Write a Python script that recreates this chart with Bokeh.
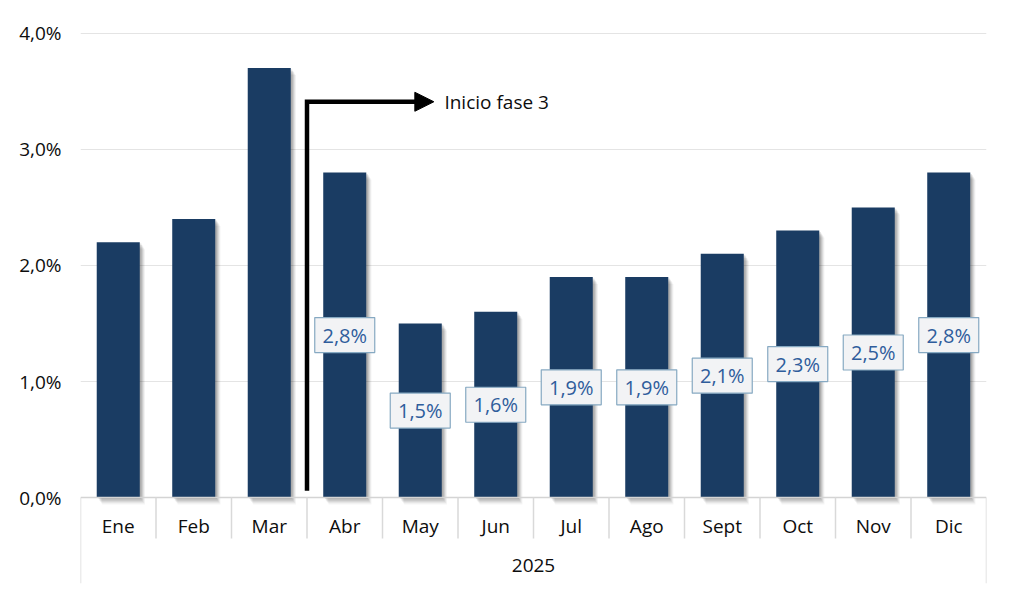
from bokeh.plotting import figure
from bokeh.models import ColumnDataSource, Range1d, FixedTicker, Arrow, NormalHead
from bokeh.transform import dodge
from bokeh.core.properties import value
from bokeh.embed import file_html
from bokeh.resources import INLINE

# ---------------- data ----------------
months = ["Ene", "Feb", "Mar", "Abr", "May", "Jun", "Jul", "Ago", "Sept", "Oct", "Nov", "Dic"]
values = [2.2, 2.4, 3.7, 2.8, 1.5, 1.6, 1.9, 1.9, 2.1, 2.3, 2.5, 2.8]
show_label = [False, False, False, True, True, True, True, True, True, True, True, True]
year = "2025"
y_ticks = [0, 1, 2, 3, 4]
y_tick_labels = ["0,0%", "1,0%", "2,0%", "3,0%", "4,0%"]
annotation_text = "Inicio fase 3"
annotation_month = "Abr"
annotation_level = 3.41

FONT = "Open Sans"
BAR = "#1a3c63"
FS = "19px"

n = len(months)
xs = [i + 0.5 for i in range(n)]
src = ColumnDataSource(dict(x=xs, v=values, m=months))

lab_x = [x for x, s in zip(xs, show_label) if s]
lab_v = [v for v, s in zip(values, show_label) if s]
lab_src = ColumnDataSource(dict(
    x=lab_x, y=[v / 2 for v in lab_v],
    t=[f"{v:.1f}".replace(".", ",") + "%" for v in lab_v]))

p = figure(width=1016, height=591, output_backend="svg", toolbar_location=None,
           x_range=Range1d(0, n), y_range=Range1d(-0.74, 4.11),
           min_border_left=80, min_border_right=30, min_border_top=20, min_border_bottom=8)
p.outline_line_color = None
p.background_fill_color = "white"
p.border_fill_color = "white"
p.xaxis.visible = False
p.xgrid.visible = False

p.yaxis.ticker = FixedTicker(ticks=y_ticks)
p.yaxis.major_label_overrides = {t: l for t, l in zip(y_ticks, y_tick_labels)}
p.yaxis.axis_line_color = None
p.yaxis.major_tick_line_color = None
p.yaxis.minor_tick_line_color = None
p.yaxis.major_tick_out = 0
p.yaxis.major_tick_in = 0
p.yaxis.major_label_text_font = FONT
p.yaxis.major_label_text_font_size = FS
p.yaxis.major_label_text_color = "#0d0d0d"
p.yaxis.major_label_standoff = 19
p.ygrid.ticker = FixedTicker(ticks=y_ticks[1:])
p.ygrid.grid_line_color = "#e4e4e4"
p.ygrid.grid_line_width = 1

# shadows
for k, a in enumerate([0.10, 0.09, 0.08, 0.06, 0.04]):
    off = 0.012 * (k + 1)
    p.vbar(x=dodge("x", off + 0.01, range=p.x_range), top=dodge("v", -0.012 * (k + 1), range=p.y_range),
           bottom=-0.012 * (k + 1), width=0.57, source=src,
           fill_color="black", fill_alpha=a, line_color=None)

p.vbar(x="x", top="v", bottom=0, width=0.57, source=src, fill_color=BAR, line_color=None)

# axis line and separators
p.line([0, n], [0, 0], line_color="#d4d4d4", line_width=1.5)
inner = list(range(1, n))
p.segment(x0=inner, y0=[0] * len(inner), x1=inner, y1=[-0.353] * len(inner),
          line_color="#d9d9d9", line_width=1.5)
p.segment(x0=[0, n], y0=[0, 0], x1=[0, n], y1=[-0.74, -0.74], line_color="#d9d9d9", line_width=1.5)

# category labels
p.text(x="x", y=-0.241, text="m", source=src, text_font=value(FONT), text_font_size=FS,
       text_align="center", text_baseline="middle", text_color="#0d0d0d")
p.text(x=[n / 2], y=[-0.586], text=[year], text_font=value(FONT), text_font_size=FS,
       text_align="center", text_baseline="middle", text_color="#0d0d0d")

# value labels
p.rect(x="x", y="y", width=60, height=35, width_units="screen", height_units="screen",
       source=lab_src, fill_color="#f2f3f5", line_color="#86a9c2", line_width=1.2)
p.text(x="x", y="y", text="t", source=lab_src, text_font=value(FONT), text_font_size="20px",
       text_align="center", text_baseline="middle", text_color="#2f5d9c")

# annotation arrow
ax = months.index(annotation_month)
tip = ax + 1.68
p.line([ax, ax, tip - 0.2], [0.06, annotation_level, annotation_level], line_color="black",
       line_width=4.5, line_join="miter")
p.add_layout(Arrow(x_start=tip - 0.24, y_start=annotation_level, x_end=tip, y_end=annotation_level,
                   line_alpha=0, line_width=1,
                   end=NormalHead(size=19, fill_color="black", line_color="black")))
p.text(x=[tip + 0.14], y=[annotation_level], text=[annotation_text], text_font=value(FONT),
       text_font_size=FS, text_align="left", text_baseline="middle", text_color="#0d0d0d")

open("out.html", "w").write(file_html(p, INLINE))
